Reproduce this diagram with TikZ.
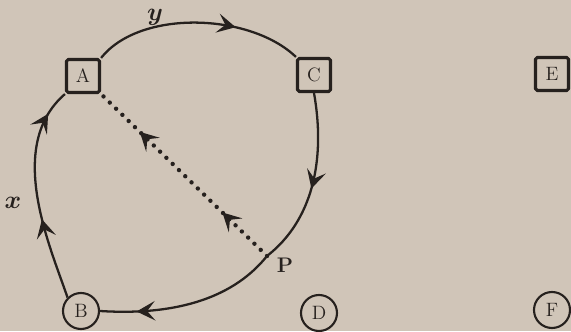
\documentclass[tikz,border=0pt]{standalone}
\usepackage{amsmath,amssymb}
\usepackage{bm}
\usepackage{xcolor}
\usetikzlibrary{arrows.meta, positioning, decorations.markings}

\definecolor{paper}{RGB}{208,197,184}
\definecolor{ink}{RGB}{38,33,30}

\tikzset{
    flowtip/.tip={Stealth[length=3.7mm, width=3.9mm, inset=1.6mm]},
    station/.style={draw=ink, line width=1.8pt, rounded corners=1pt, minimum size=6.6mm, inner sep=0pt,
        text=ink, font=\fontsize{11}{13}\selectfont},
    terminal/.style={draw=ink, circle, line width=1.2pt, minimum size=7.2mm, inner sep=0pt,
        text=ink, font=\fontsize{11}{13}\selectfont},
    route/.style={draw=ink, line width=1.3pt},
    wire/.style={draw=ink, line width=2.5pt, line cap=round, dash pattern=on 0pt off 5pt},
    midarrow/.style={postaction={decorate, decoration={markings,
        mark=at position #1 with {\arrow[ink, line width=0.8pt, solid]{flowtip}}}}},
}

\begin{document}
\begin{tikzpicture}[x=0.2mm, y=0.2mm, line join=round]
    % Paper
    \useasboundingbox (0,0) rectangle (571,331);
    \fill[paper] (0,0) rectangle (571,331);

    % Boxes (top row)
    \node[station] (a) at (83,255) {A};
    \node[station] (c) at (314,256) {C};
    \node[station] (e) at (552,257) {E};

    % Circles (bottom row)
    \node[terminal] (b) at (81,20) {B};
    \node[terminal] (d) at (319,18) {D};
    \node[terminal] (f) at (552,21) {F};

    % Meeting point
    \coordinate (p) at (267,75);

    % Loop A -> C -> P -> B -> A
    \draw[route, midarrow=0.68] (a.north east) .. controls (140,322) and (250,318) .. (c.north west);
    \draw[route, midarrow=0.54] (c.south) .. controls (326,170) and (312,110) .. (p);
    \draw[route, midarrow=0.8] (p) .. controls (235,35) and (180,15) .. (b.east);
    \draw[route, midarrow=0.38, midarrow=0.88] (b.north west) .. controls (50,85) and (5,185) .. (a.south west);

    % Short cut P -> A
    \draw[wire, midarrow=0.27, midarrow=0.77] (p) -- (a.south east);

    % Labels
    \node[text=ink] (ylab) at (155,314) {\Large $\bm{y}$};
    \node[text=ink] (xlab) at (13,128) {\Large $\bm{x}$};
    \node[text=ink] (plab) at (285,66) {\large\textbf{P}};

\end{tikzpicture}
\end{document}
